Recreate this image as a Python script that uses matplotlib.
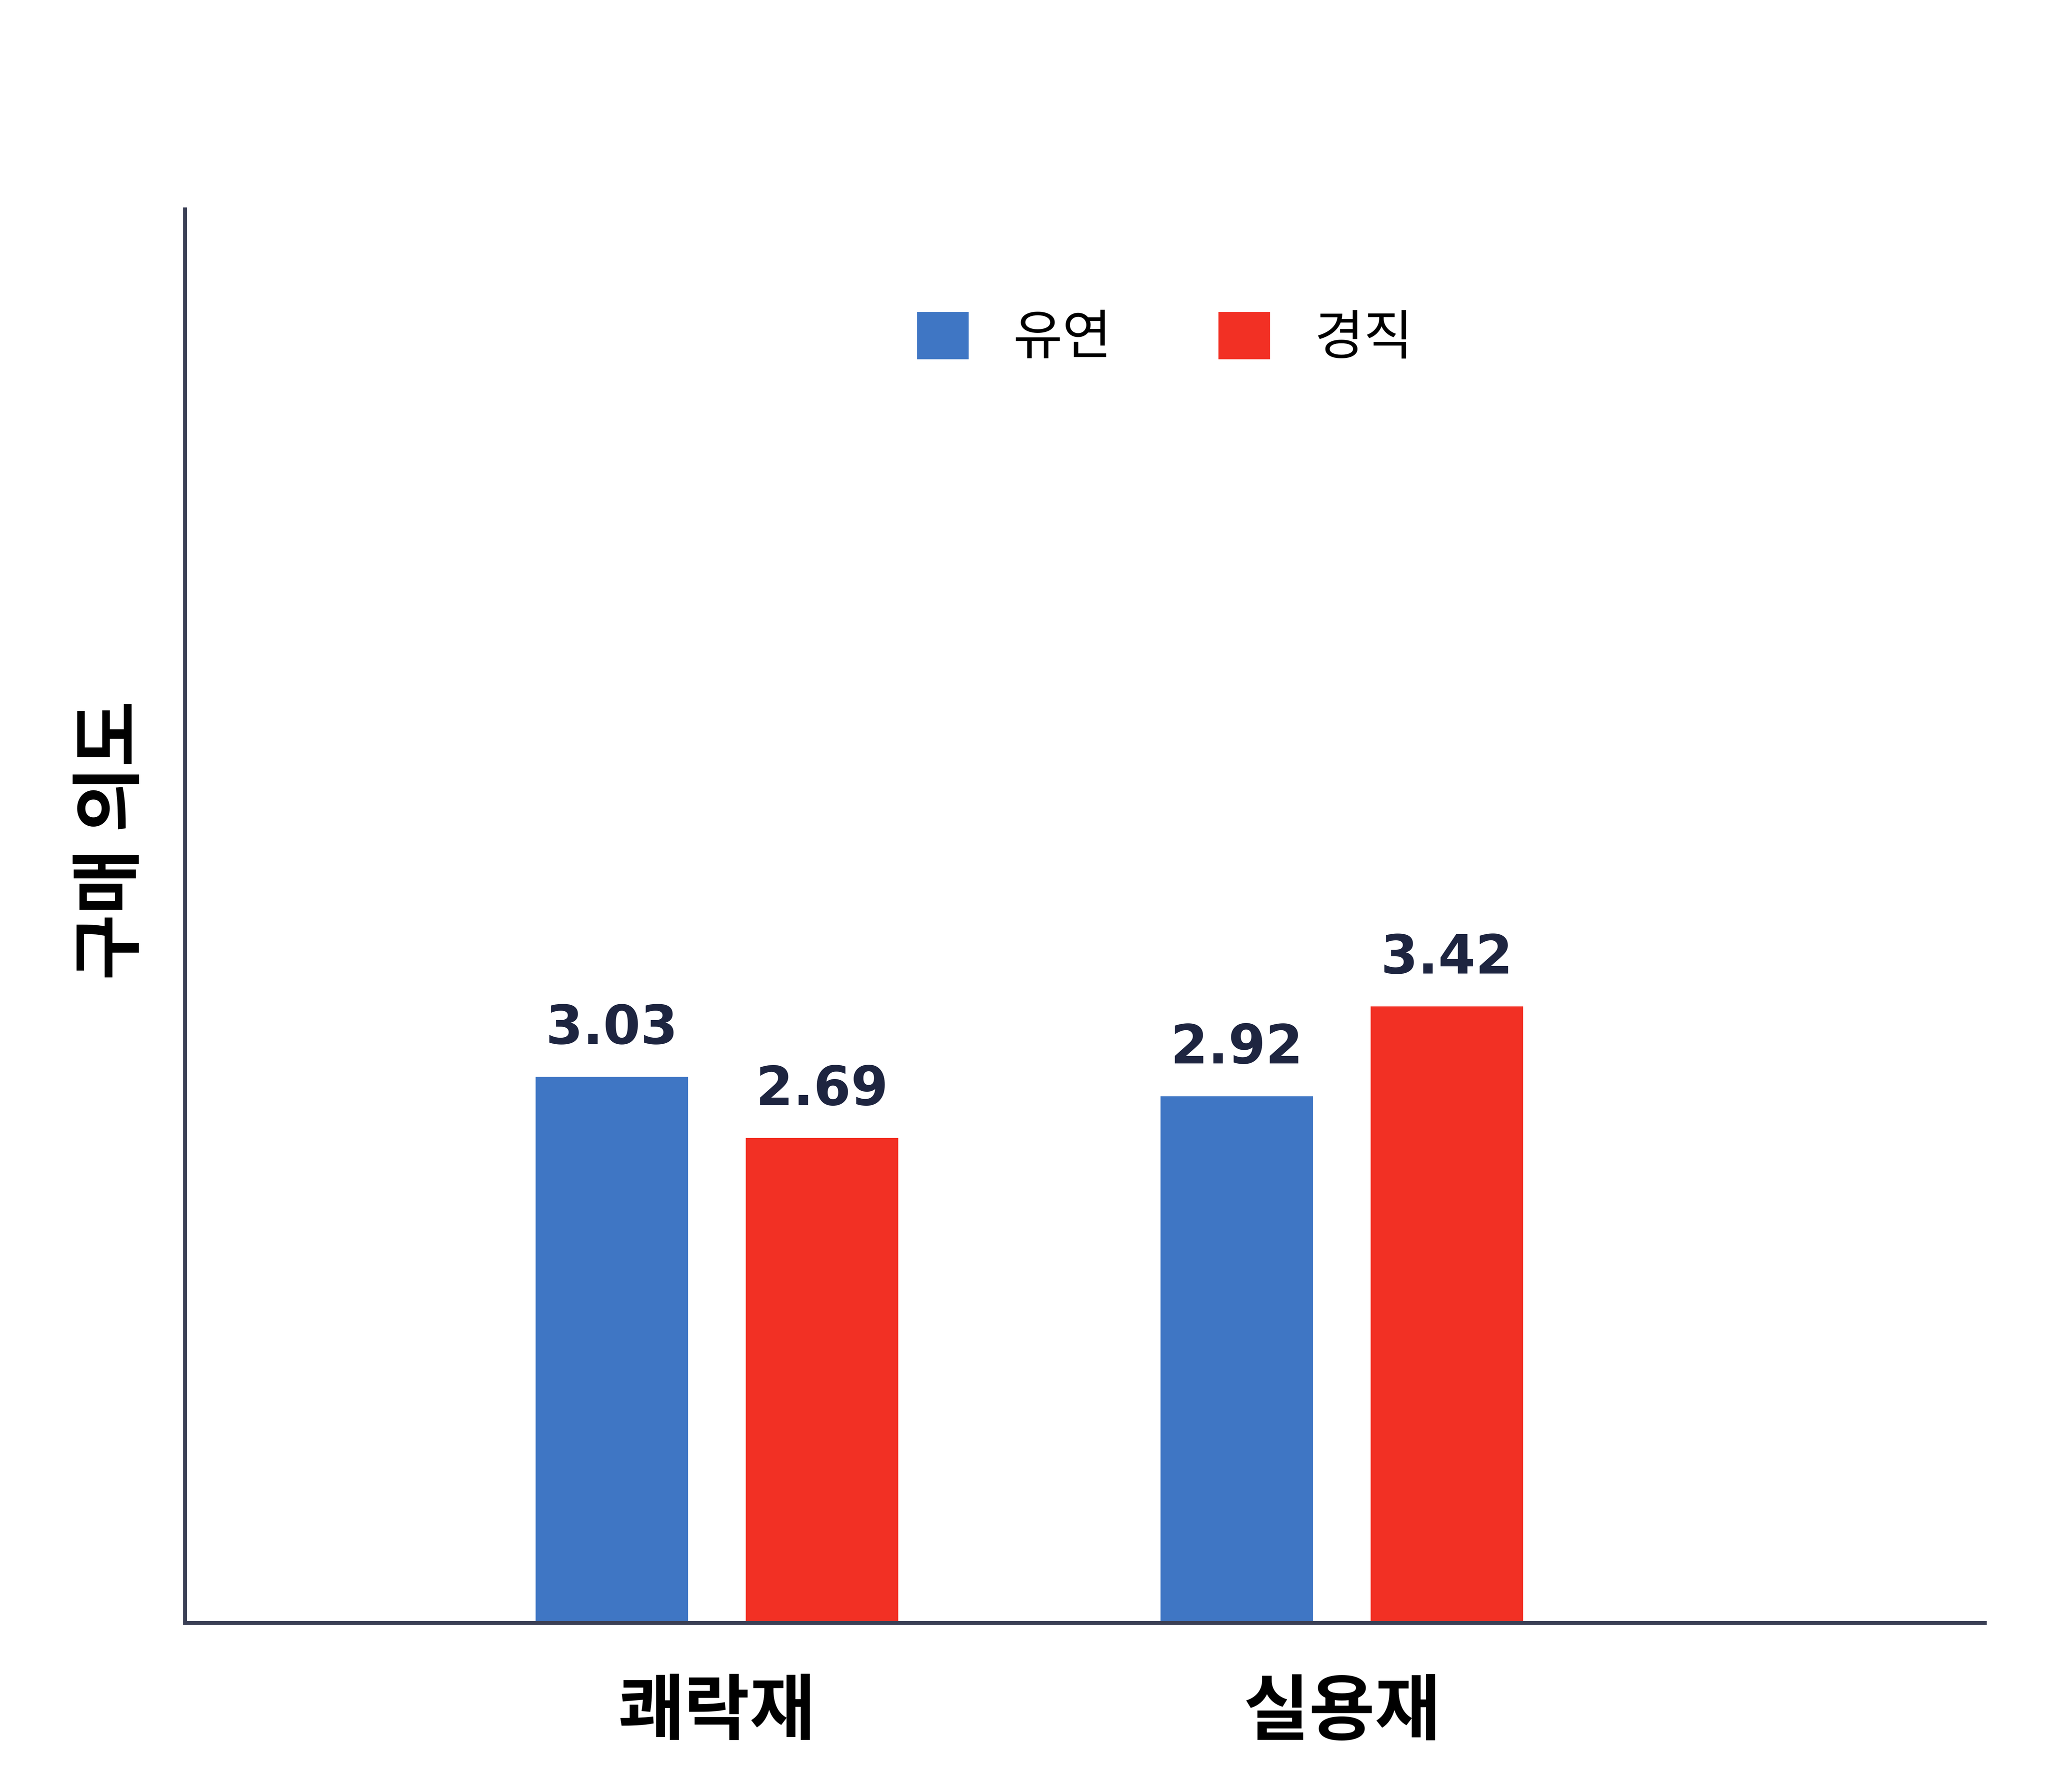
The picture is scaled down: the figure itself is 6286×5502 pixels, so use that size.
import matplotlib.pyplot as plt
from matplotlib.patches import Patch
import numpy as np

plt.rcParams['font.family'] = ['Noto Sans CJK KR', 'DejaVu Sans']

# --- data ---
categories = ['쾌락재', '실용재']
series_names = ['유연', '경직']
flexible = [3.03, 2.92]
rigid = [2.69, 3.42]
y_label = '구매 의도'

BLUE = '#3f76c4'
RED = '#f23024'
AXIS = '#3a3f55'
TEXT = '#1e2540'

fig = plt.figure(figsize=(15.916, 13.93))
ax = fig.add_axes([0.0904, 0.0944, 0.969 - 0.0904, 0.883 - 0.0944])

x = np.arange(len(categories))
w, off = 0.244, 0.168
b1 = ax.bar(x - off, flexible, w, color=BLUE)
b2 = ax.bar(x + off, rigid, w, color=RED)
for bars in (b1, b2):
    for b in bars:
        ax.text(b.get_x() + b.get_width() / 2, b.get_height() + 0.12, f"{b.get_height():.2f}",
                ha='center', va='bottom', fontsize=30, fontweight='bold', color=TEXT,
                family='DejaVu Sans')

ax.set_xlim(-0.851, 2.029)
ax.set_ylim(0, 7.84)
ax.set_xticks(x)
ax.set_xticklabels(categories, fontsize=40, fontweight='bold')
ax.set_yticks([])
ax.tick_params(axis='x', length=0, pad=30)
for s in ('top', 'right'):
    ax.spines[s].set_visible(False)
for s in ('left', 'bottom'):
    ax.spines[s].set_color(AXIS)
    ax.spines[s].set_linewidth(2.2)

fig.text(0.0545, 0.531, y_label, rotation=90, ha='center', va='center',
         fontsize=40, fontweight='bold')

handles = [Patch(color=BLUE, label=series_names[0]), Patch(color=RED, label=series_names[1])]
fig.legend(handles=handles, loc='center', bbox_to_anchor=(0.569, 0.811), ncol=2,
           frameon=False, fontsize=30, handlelength=0.93, handleheight=0.93,
           handletextpad=0.85, columnspacing=2.0)

# full 500 dpi gives ~7958x6965 but exceeds the viewer's pixel limit
fig.savefig('out.png', dpi=395, facecolor='white')
